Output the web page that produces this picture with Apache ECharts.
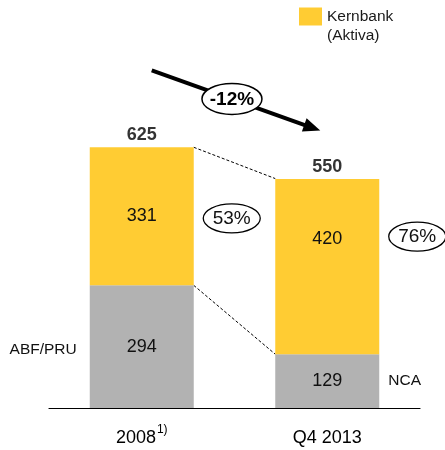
<!DOCTYPE html>
<html>
<head>
<meta charset="utf-8">
<script src="https://cdn.jsdelivr.net/npm/echarts@6/dist/echarts.min.js"></script>
<style>
  html, body { margin: 0; padding: 0; background: #fff; }
  #chart { width: 445px; height: 450px; }
</style>
</head>
<body>
<div id="chart"></div>
<script>
// data
const categories = ['2008', 'Q4 2013'];
const footnotes = ['1)', ''];
const nonCore = [294, 129];
const nonCoreNames = ['ABF/PRU', 'NCA'];
const coreAssets = [331, 420];
const totals = [625, 550];
const coreShare = ['53%', '76%'];
const change = '-12%';

const FONT = 'Liberation Sans, Arial, sans-serif';
const YELLOW = '#FFCC33';
const GREY = '#B2B2B2';
const BAR_W = 104;

let chart = echarts.init(document.getElementById('chart'));

chart.setOption({
  animation: false,
  textStyle: { fontFamily: FONT },
  grid: { left: 49, right: 25, top: 116, bottom: 42, outerBoundsMode: 'none', containLabel: false },
  legend: {
    data: ['Kernbank'],
    left: 299,
    top: -12,
    padding: 0,
    icon: 'rect',
    itemWidth: 23,
    itemHeight: 18,
    itemGap: 0,
    formatter: () => '\nKernbank\n(Aktiva)',
    textStyle: { fontSize: 15.5, lineHeight: 19, color: '#1a1a1a' }
  },
  xAxis: {
    type: 'category',
    data: categories,
    axisLine: { lineStyle: { color: '#000', width: 1.2 } },
    axisTick: { show: false },
    axisLabel: {
      margin: 15,
      fontSize: 18,
      lineHeight: 31,
      color: '#000',
      formatter: (v, i) => footnotes[i] ? v + '{sup|' + footnotes[i] + '}' : v,
      rich: {
        sup: { fontSize: 12, lineHeight: 14, verticalAlign: 'top', color: '#000', padding: [1, 0, 0, 1] }
      }
    }
  },
  yAxis: { type: 'value', min: 0, max: 700, show: false },
  series: [{
    name: 'ABF/PRU',
    type: 'bar',
    stack: 'total',
    barWidth: BAR_W,
    data: nonCore,
    itemStyle: { color: GREY },
    label: { show: true, position: 'inside', fontSize: 18, color: '#111' }
  }, {
    name: 'Kernbank',
    type: 'bar',
    stack: 'total',
    barWidth: BAR_W,
    data: coreAssets.map((v, i) => i === 1 ? { value: v, label: { offset: [0, -28] } } : v),
    itemStyle: { color: YELLOW },
    label: { show: true, position: 'inside', fontSize: 18, color: '#111' }
  }, {
    name: 'total',
    type: 'scatter',
    symbolSize: 0,
    data: totals,
    silent: true,
    label: { show: true, position: 'top', distance: 3, fontSize: 18, fontWeight: 'bold', color: '#000' }
  }]
});

// annotations placed from the axis scales
const px = (i, v) => chart.convertToPixel({ gridIndex: 0 }, [i, v]);
const graphics = [];
const half = BAR_W / 2;

const top0 = px(0, totals[0]), top1 = px(1, totals[1]);
const mid0 = px(0, nonCore[0]), mid1 = px(1, nonCore[1]);
[[top0, top1], [mid0, mid1]].forEach(([a, b]) => {
  graphics.push({
    type: 'line',
    shape: { x1: a[0] + half, y1: a[1], x2: b[0] - half, y2: b[1] },
    style: { stroke: '#000', lineWidth: 1, lineDash: [3, 2] }
  });
});

// segment names next to the grey blocks
const g0 = px(0, nonCore[0] / 2), g1 = px(1, nonCore[1] / 2);
graphics.push({
  type: 'text',
  style: { text: nonCoreNames[0], x: g0[0] - half - 13, y: g0[1] + 3, align: 'right', verticalAlign: 'middle', fontSize: 15.5, fontFamily: FONT, fill: '#111' }
});
graphics.push({
  type: 'text',
  style: { text: nonCoreNames[1], x: g1[0] + half + 9, y: g1[1], align: 'left', verticalAlign: 'middle', fontSize: 15.5, fontFamily: FONT, fill: '#111' }
});

// share ellipses beside the yellow blocks
const shareShift = [0, -32];
coreShare.forEach((s, i) => {
  const p = px(i, nonCore[i] + coreAssets[i] / 2);
  const cx = p[0] + half + 38, cy = p[1] + shareShift[i] + 2;
  graphics.push({
    type: 'ellipse',
    shape: { cx: cx, cy: cy, rx: 28.5, ry: 14.5 },
    style: { fill: '#fff', stroke: '#000', lineWidth: 1.3 }
  });
  graphics.push({
    type: 'text',
    style: { text: s, x: cx, y: cy, align: 'center', verticalAlign: 'middle', fontSize: 19, fontFamily: FONT, fill: '#111' }
  });
});

// trend arrow with the change
const sx = top0[0] + 10, sy = top0[1] - 77;
const tx = top1[0] - 7, ty = top1[1] - 48;
const len = Math.hypot(tx - sx, ty - sy);
const ux = (tx - sx) / len, uy = (ty - sy) / len;
const nx = -uy, ny = ux;
graphics.push({
  type: 'line',
  shape: { x1: sx, y1: sy, x2: tx - 12 * ux, y2: ty - 12 * uy },
  style: { stroke: '#000', lineWidth: 4 }
});
graphics.push({
  type: 'polygon',
  shape: { points: [[tx, ty], [tx - 17 * ux + 7 * nx, ty - 17 * uy + 7 * ny], [tx - 17 * ux - 7 * nx, ty - 17 * uy - 7 * ny]] },
  style: { fill: '#000' }
});
const t = 0.476;
const ex = sx + t * (tx - sx), ey = sy + t * (ty - sy);
graphics.push({
  type: 'ellipse',
  shape: { cx: ex, cy: ey, rx: 30, ry: 15.5 },
  style: { fill: '#fff', stroke: '#000', lineWidth: 1.5 }
});
graphics.push({
  type: 'text',
  style: { text: change, x: ex, y: ey + 1, align: 'center', verticalAlign: 'middle', fontSize: 19, fontWeight: 'bold', fontFamily: FONT, fill: '#000' }
});

chart.setOption({ graphic: graphics });
</script>
</body>
</html>
